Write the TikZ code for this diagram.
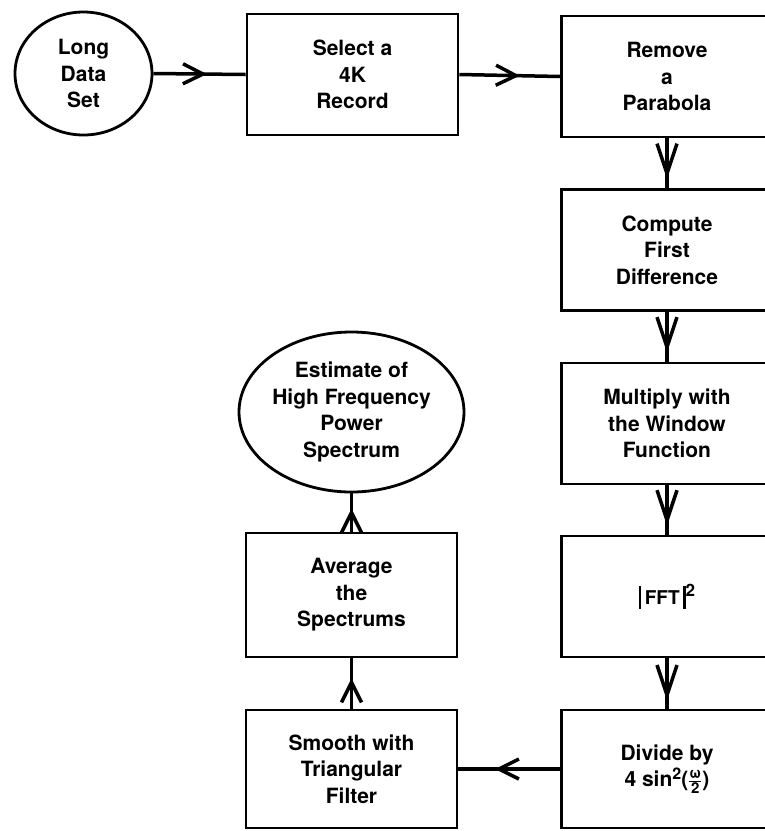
\documentclass[tikz,border=0pt]{standalone}
\usepackage{fontspec}
\setmainfont{TeX Gyre Heros}
\usetikzlibrary{shapes.geometric,arrows.meta,decorations.markings}

\tikzset{
	kurz/.tip={Straight Barb[length=20pt,width=20pt,line width=3.5pt]},
	lang/.tip={Straight Barb[length=30pt,width=20pt,line width=3.5pt]}
}

\begin{document}
\begin{tikzpicture}[
		x=1pt,y=-1pt,
		every node/.style={font=\fontsize{21pt}{26.5pt}\selectfont\bfseries, align=center},
		box/.style={draw, line width=2.8pt, minimum width=211pt, minimum height=121pt, inner sep=0pt},
		oval/.style={draw, ellipse, line width=2.8pt, inner sep=0pt},
		pfeil/.style={line width=3.5pt, postaction={decorate},
			decoration={markings, mark=at position #1 with {\arrow{kurz}}}},
		pfeilv/.style={line width=3.5pt, postaction={decorate},
			decoration={markings, mark=at position #1 with {\arrow{lang}}}}
		]
		\useasboundingbox (0,0) rectangle (765,831);
		\clip (0,0) rectangle (765,831);

		% Eingang und obere Reihe
		\node [oval, minimum width=137pt, minimum height=123pt] (data) at (83.5,73.5) {Long\\Data\\Set};
		\node [box] (select) at (352.5,74.5) {Select a\\4K\\Record};
		\node [box] (remove) at (667,76.5) {Remove\\a\\Parabola};

		% rechte Spalte
		\node [box] (diff) at (667,250) {Compute\\First\\Difference};
		\node [box] (window) at (667,423.5) {Multiply with\\the Window\\Function};
		\node [box] (fft) at (667,596.5) {\rule[-4pt]{2.5pt}{23pt}\,{\fontsize{19pt}{21pt}\selectfont FFT}\,\rule[-4pt]{2.5pt}{23pt}\raisebox{8pt}{\fontsize{17pt}{17pt}\selectfont 2}};
		\node [box, minimum height=118pt] (divide) at (667,769)
			{Divide by\\4 sin\raisebox{7pt}{\fontsize{16pt}{16pt}\selectfont 2}($\frac{\mbox{\fontsize{15pt}{15pt}\selectfont ω}}{\mbox{\fontsize{15pt}{15pt}\selectfont 2}}$)};

		% linke Spalte
		\node [box, minimum height=118pt] (smooth) at (351.5,769) {Smooth with\\Triangular\\Filter};
		\node [box, minimum height=124pt] (average) at (351.5,595) {Average\\the\\Spectrums};
		\node [oval, minimum width=225pt, minimum height=160pt] (estimate) at (351.5,412) {Estimate of\\High Frequency\\Power\\Spectrum};

		% Verbindungen
		\draw [pfeil=0.58] (data.east) -- (select.west);
		\draw [pfeil=0.6] (select.east) -- (remove.west);
		\draw [pfeilv=0.82] (remove.south) -- (diff.north);
		\draw [pfeilv=0.82] (diff.south) -- (window.north);
		\draw [pfeilv=0.82] (window.south) -- (fft.north);
		\draw [pfeilv=0.84] (fft.south) -- (divide.north);
		\draw [pfeil=0.64] (divide.west) -- (smooth.east);
		\draw [pfeil=0.6] (smooth.north) -- (average.south);
		\draw [pfeil=0.6] (average.north) -- (estimate.south);

	\end{tikzpicture}
\end{document}
